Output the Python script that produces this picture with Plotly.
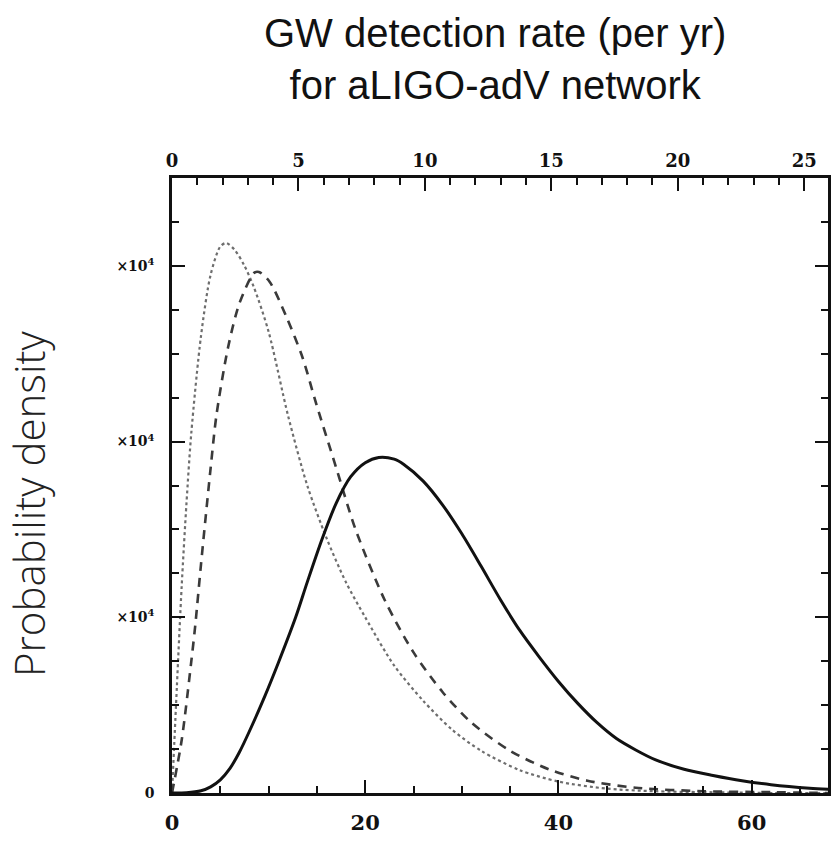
import plotly.graph_objects as go

# ---- data (bottom-axis units, y in units of 10^4) ----
dot_x = [0, 0.5, 1, 1.5, 2, 3, 4, 5, 5.6, 6.5, 7.5, 8.5, 10, 12, 14, 16, 18, 20, 23, 26, 29, 32, 36, 40, 45, 50, 55, 62, 68]
dot_y = [0, 1.2, 2.35, 3.3, 4.1, 5.2, 5.9, 6.22, 6.26, 6.18, 6.0, 5.75, 5.25, 4.3, 3.5, 2.9, 2.4, 2.0, 1.45, 1.05, 0.72, 0.48, 0.26, 0.13, 0.05, 0.02, 0.01, 0.0, 0.0]

dash_x = [0, 1, 2, 2.4, 3, 4, 4.6, 5.8, 7, 8.5, 9.0, 10.1, 11.8, 13.5, 14.9, 17, 19, 22, 25, 28, 31, 35, 39, 43, 48, 55, 62, 68]
dash_y = [0, 0.6, 1.5, 1.9, 2.6, 3.7, 4.3, 5.07, 5.58, 5.92, 5.93, 5.82, 5.43, 4.96, 4.44, 3.7, 3.0, 2.2, 1.6, 1.15, 0.8, 0.48, 0.27, 0.14, 0.06, 0.02, 0.01, 0.0]

solid_x = [0, 1.5, 3, 4, 5, 6, 7, 8, 9.6, 11, 12.8, 14, 15.5, 17, 18.5, 20, 21.4, 23, 24, 26, 28, 30, 32, 34, 36, 38, 40, 42, 44, 46, 48, 50, 53, 56, 59, 62, 66, 70]
solid_y = [0, 0.003, 0.025, 0.07, 0.15, 0.28, 0.47, 0.7, 1.1, 1.48, 2.0, 2.4, 2.88, 3.3, 3.6, 3.76, 3.82, 3.8, 3.74, 3.55, 3.28, 2.95, 2.58, 2.2, 1.85, 1.55, 1.27, 1.02, 0.8, 0.62, 0.49, 0.38, 0.27, 0.2, 0.14, 0.095, 0.055, 0.03]

bottom_ticks = [0, 20, 40, 60]
top_ticks = [0, 5, 10, 15, 20, 25]
y_tickvals = [0, 2, 4, 6]
y_ticktext = ["0", "2×10<sup>4</sup>", "4×10<sup>4</sup>", "6×10<sup>4</sup>"]

title_text = "GW detection rate (per yr)<br>for aLIGO-adV network"
ytitle_text = "Probability density"

X_MAX = 67.9
TOP_MAX = 25.94

fig = go.Figure()
fig.add_trace(go.Scatter(x=dot_x, y=dot_y, mode="lines", line=dict(color="#6e6e6e", width=2.2, dash="dot", shape="spline", smoothing=0.8), showlegend=False))
fig.add_trace(go.Scatter(x=dash_x, y=dash_y, mode="lines", line=dict(color="#3a3a3a", width=2.6, dash="9px,7px", shape="spline", smoothing=0.8), showlegend=False))
fig.add_trace(go.Scatter(x=solid_x, y=solid_y, mode="lines", line=dict(color="#111111", width=3, shape="spline", smoothing=0.8), showlegend=False))
# invisible trace to activate top axis
fig.add_trace(go.Scatter(x=[0], y=[0], xaxis="x2", mode="markers", marker=dict(opacity=0), showlegend=False, hoverinfo="skip"))

tickfont_b = dict(family="DejaVu Serif", size=21, color="#111")
tickfont_t = dict(family="DejaVu Serif", size=18, color="#111")

fig.update_layout(
    width=840, height=844,
    margin=dict(l=172, r=9, t=178, b=31),
    paper_bgcolor="white", plot_bgcolor="white",
    xaxis=dict(range=[0, X_MAX], tickvals=bottom_ticks, ticktext=[f"<b>{v}</b>" for v in bottom_ticks],
               ticks="inside", ticklen=13, tickwidth=2, tickcolor="#111",
               showline=True, linecolor="#111", linewidth=2.5, mirror=True,
               showgrid=False, zeroline=False, tickfont=tickfont_b, ticklabelstandoff=9,
               minor=dict(dtick=5, tick0=0, ticks="inside", ticklen=7, tickwidth=1.5, tickcolor="#111")),
    xaxis2=dict(range=[0, TOP_MAX], overlaying="x", side="top", tickvals=top_ticks,
                ticktext=[f"<b>{v}</b>" for v in top_ticks],
                ticks="inside", ticklen=13, tickwidth=2, tickcolor="#111",
                showline=False, showgrid=False, zeroline=False, tickfont=tickfont_t, ticklabelstandoff=6,
                minor=dict(dtick=1, tick0=0, ticks="inside", ticklen=7, tickwidth=1.5, tickcolor="#111")),
    yaxis=dict(range=[0, 7.0], tickvals=y_tickvals, ticktext=[f"<b>{t}</b>" for t in y_ticktext],
               ticks="inside", ticklen=13, tickwidth=2, tickcolor="#111",
               showline=True, linecolor="#111", linewidth=2.5, mirror="ticks",
               showgrid=False, zeroline=False, tickfont=dict(family="DejaVu Serif", size=14, color="#111"),
               ticklabelstandoff=12,
               minor=dict(dtick=0.5, tick0=0, ticks="inside", ticklen=7, tickwidth=1.5, tickcolor="#111")),
    shapes=[dict(type="rect", xref="paper", yref="paper", x0=-0.3, x1=(117 - 172) / 659, y0=-0.1, y1=1.1,
                 fillcolor="white", line=dict(width=0), layer="above")],
    annotations=[
        dict(text=title_text, xref="paper", yref="paper", x=(496 - 172) / 659, y=1 + (178 - 55) / 635,
             xanchor="center", yanchor="middle", showarrow=False,
             font=dict(family="Liberation Sans", size=40, color="#111")),
        dict(text=ytitle_text, xref="paper", yref="paper", x=(28 - 172) / 659, y=(813 - 515) / 635,
             xanchor="center", yanchor="middle", showarrow=False, textangle=-90,
             font=dict(family="Open Sans", size=42, color="#222", weight=300)),
    ],
)

fig.write_html("out.html")
